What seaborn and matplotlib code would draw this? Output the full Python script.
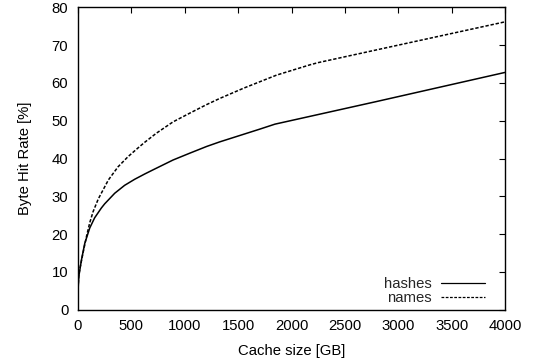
import matplotlib
matplotlib.use("Agg")
import matplotlib.pyplot as plt
import seaborn as sns
import pandas as pd

sns.set_theme(style="white")
plt.rcParams['font.family'] = ['Liberation Sans', 'DejaVu Sans']

hashes_x = [0, 2, 7, 32, 63, 110, 156, 219, 250, 344, 437, 531, 625, 703, 890,
            1046, 1206, 1327, 1705, 1845, 2798, 4000]
hashes_y = [0, 6.0, 8.7, 13.1, 17.5, 21.6, 24.3, 26.9, 28.0, 30.8, 32.9, 34.5, 35.9, 37.0, 39.6,
            41.4, 43.2, 44.4, 47.8, 49.1, 55.1, 62.8]
names_x = [0, 2, 7, 16, 47, 79, 110, 141, 190, 284, 375, 469, 562, 625, 734, 890,
           1046, 1206, 1327, 1549, 1861, 2171, 2250, 4000]
names_y = [0, 6.5, 9.0, 10.6, 15.0, 19.3, 23.0, 25.9, 29.3, 34.3, 37.8, 40.5, 42.8, 44.3, 46.7, 49.7,
           52.0, 54.3, 55.9, 58.6, 62.1, 64.8, 65.4, 76.2]

x_ticks = [0, 500, 1000, 1500, 2000, 2500, 3000, 3500, 4000]
y_ticks = [0, 10, 20, 30, 40, 50, 60, 70, 80]

df = pd.concat([
    pd.DataFrame({"size": hashes_x, "rate": hashes_y, "series": "hashes"}),
    pd.DataFrame({"size": names_x, "rate": names_y, "series": "names"}),
])

fig = plt.figure(figsize=(5.34, 3.62), dpi=100)
ax = fig.add_axes([0.1461, 0.145, 0.7996, 0.8343])

sns.lineplot(data=df, x="size", y="rate", hue="series", style="series",
             palette={"hashes": "black", "names": "black"},
             dashes={"hashes": "", "names": (2.2, 1.2)},
             sort=False, estimator=None, ax=ax, linewidth=1.1)

ax.set_xlim(0, 4000)
ax.set_ylim(0, 80)
ax.set_xticks(x_ticks)
ax.set_yticks(y_ticks)
ax.tick_params(axis="x", pad=7)
ax.tick_params(axis="y", pad=7)
ax.tick_params(direction="in", length=4, width=0.8, top=True, right=True,
               labelsize=10.7, colors="black")
for s in ax.spines.values():
    s.set_color("black")
    s.set_linewidth(1.0)
ax.set_xlabel("Cache size [GB]", fontsize=10.7, color="black", labelpad=8)
ax.set_ylabel("Byte Hit Rate [%]", fontsize=10.7, color="black", labelpad=14)

handles, labels = ax.get_legend_handles_labels()
for h in handles:
    h.set_linewidth(0.9)
leg = ax.legend(handles, labels, loc="lower right", frameon=False, markerfirst=False,
                fontsize=10.7, handlelength=3.0, handletextpad=0.6, labelspacing=0.0,
                borderaxespad=0.0, bbox_to_anchor=(0.968, -0.005))
for t in leg.get_texts():
    t.set_ha("right")

fig.savefig("out.png", dpi=100)
